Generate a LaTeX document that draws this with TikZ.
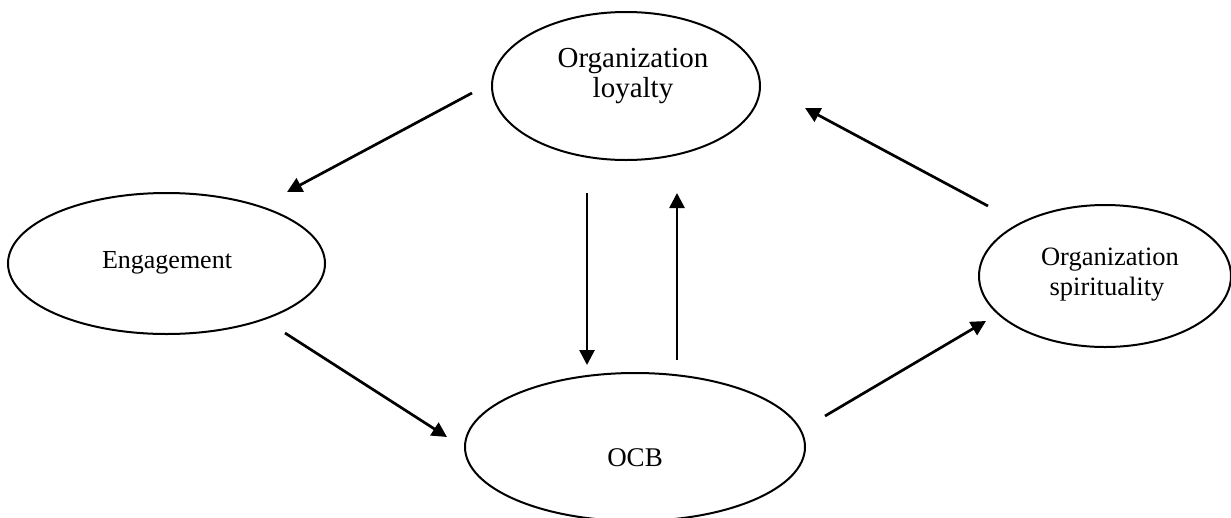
\documentclass[tikz,border=0pt]{standalone}
\usepackage{fontspec}
\setmainfont{Liberation Serif}
\usetikzlibrary{shapes.geometric,arrows.meta}
\begin{document}
\begin{tikzpicture}[x=1pt,y=-1pt,
  bubble/.style={draw=black,line width=2pt,ellipse,inner sep=0pt},
  word/.style={anchor=base,inner sep=0pt},
  link/.style={line width=2.7pt,-{Triangle[length=15pt,width=15pt]}}]
\useasboundingbox (0,0) rectangle (1231,517);
% ellipses
\node[bubble,minimum width=268pt,minimum height=148pt] (loy) at (626,86) {};
\node[bubble,minimum width=317pt,minimum height=141pt] (eng) at (166.5,263.5) {};
\node[bubble,minimum width=252pt,minimum height=142pt] (spi) at (1105,276) {};
\node[bubble,minimum width=340pt,minimum height=148pt] (ocb) at (635,447) {};
% texts
\node[word,font=\fontsize{29}{30}\selectfont] (loy1) at (633,67) {Organization};
\node[word,font=\fontsize{29}{30}\selectfont] (loy2) at (633,97) {loyalty};
\node[word,font=\fontsize{26}{30}\selectfont] (engT) at (167,268) {Engagement};
\node[word,font=\fontsize{26.5}{30}\selectfont] (spi1) at (1110,265) {Organization};
\node[word,font=\fontsize{26.5}{30}\selectfont] (spi2) at (1107,295) {spirituality};
\node[word,font=\fontsize{27}{30}\selectfont] (ocbT) at (635,466) {OCB};
% arrow end points
\coordinate (a1s) at (472,93);  \coordinate (a1e) at (287,192);
\coordinate (a2s) at (587,193); \coordinate (a2e) at (587,365);
\coordinate (a3s) at (677,360); \coordinate (a3e) at (677,193);
\coordinate (a4s) at (285,333); \coordinate (a4e) at (447,437);
\coordinate (a5s) at (825,416); \coordinate (a5e) at (986,321);
\coordinate (a6s) at (988,206); \coordinate (a6e) at (805,108);
\draw[link] (a1s) -- (a1e);
\draw[link] (a2s) -- (a2e);
\draw[link] (a3s) -- (a3e);
\draw[link] (a4s) -- (a4e);
\draw[link] (a5s) -- (a5e);
\draw[link] (a6s) -- (a6e);
\end{tikzpicture}
\end{document}
